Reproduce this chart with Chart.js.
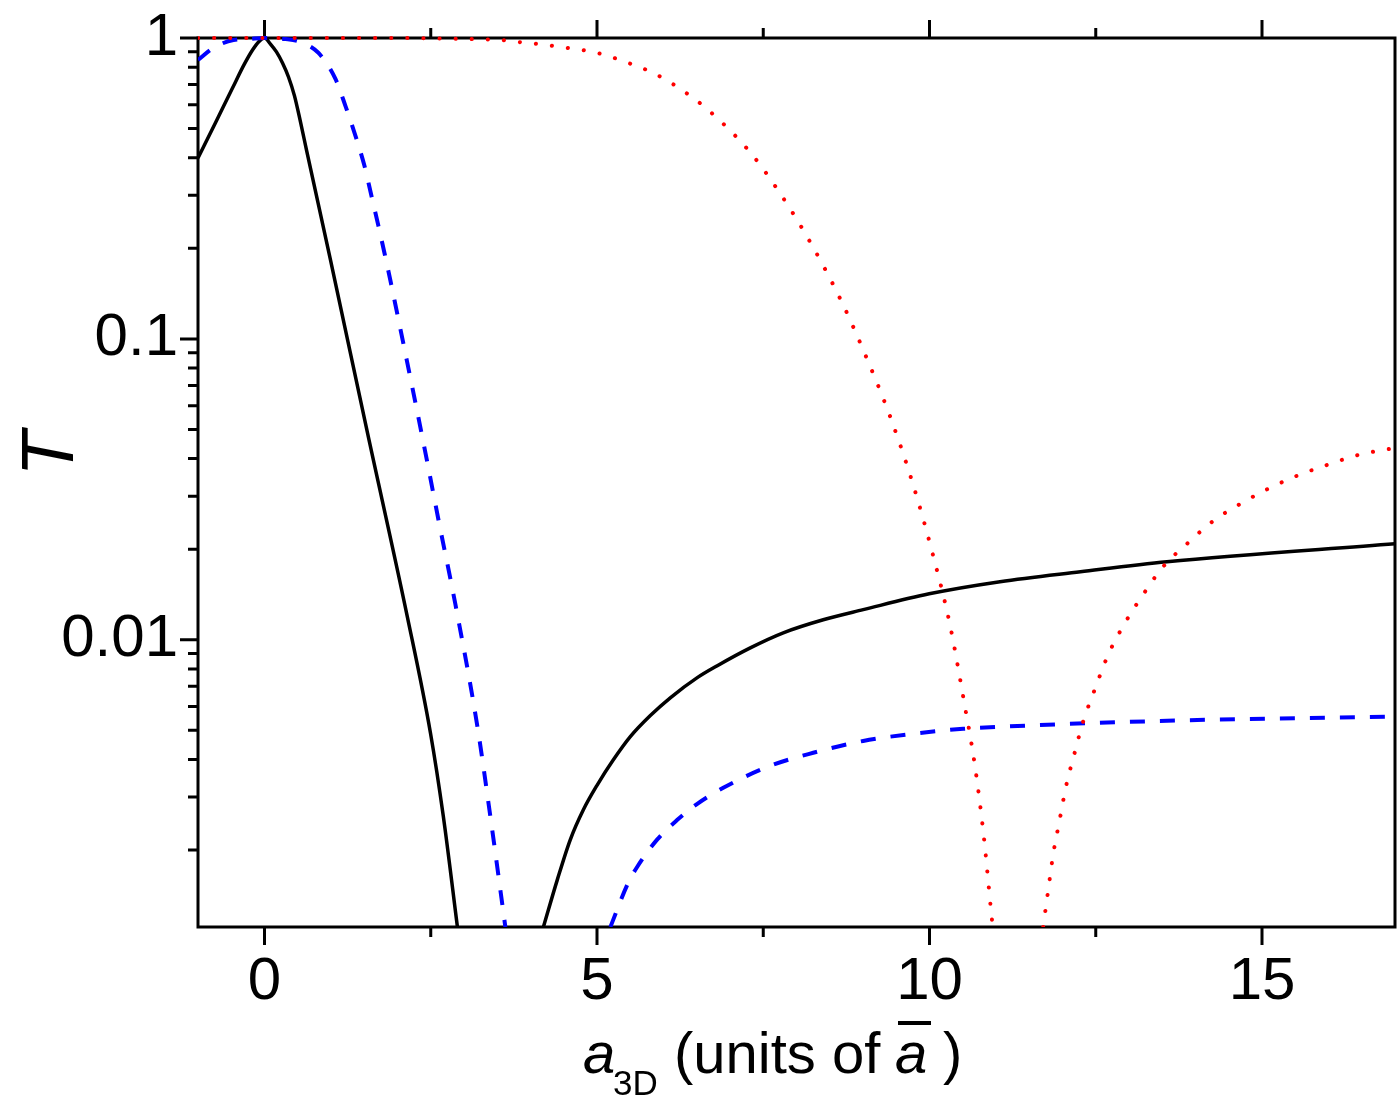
<!DOCTYPE html>
<html>
<head>
<meta charset="utf-8">
<script src="https://cdn.jsdelivr.net/npm/chart.js@4.4.1/dist/chart.umd.min.js"></script>
<style>
html, body { margin: 0; padding: 0; background: #fff; }
</style>
</head>
<body>
<canvas id="plot" width="1400" height="1105"></canvas>
<script>
// axis ticks
const xTicks = [0, 5, 10, 15];
const xMinorTicks = [2.5, 7.5, 12.5];
const yTicks = [0.01, 0.1, 1];
const yTickLabels = ['0.01', '0.1', '1'];

// solid black curve (null = gap below the axis)
const blackX = [-1, -0.737, -0.481, -0.301, -0.18, -0.09, 0, 0.09, 0.18, 0.271, 0.361, 0.451, 0.541, 0.631, 0.992, 1.548, 2.149, 2.495, 2.69, 2.901,
                3.5, 4.194, 4.404, 4.599, 4.795, 5.005, 5.246, 5.501, 5.802, 6.102, 6.508, 6.809, 7.305, 7.801, 8.402, 9.003, 9.995, 11.06, 12.27, 13.57, 17];
const blackT = [0.399, 0.523, 0.682, 0.820, 0.912, 0.970, 1.0, 0.955, 0.899, 0.826, 0.742, 0.642, 0.526, 0.425, 0.183, 0.0488, 0.0119, 0.00491, 0.00258, 0.00111,
                null, 0.00111, 0.001595, 0.002168, 0.002723, 0.003296, 0.00399, 0.004764, 0.005598, 0.006412, 0.007482, 0.0082, 0.009398, 0.010544, 0.01165, 0.01259, 0.01422, 0.0156, 0.01683, 0.01816, 0.02084];

// dashed blue curve
const blueX = [-1, -0.767, -0.466, -0.24, 0, 0.316, 0.541, 0.812, 1.067, 1.218, 1.368, 1.503, 1.608, 1.714, 1.804, 1.894, 1.984, 2.089, 2.27, 2.45, 2.615, 2.871, 3.202, 3.397, 3.622,
               4.4, 5.201, 5.471, 5.606, 5.907, 6.208, 6.508, 6.899, 7.605, 8.252, 9.003, 9.755, 10.507, 11.063, 13.573, 17];
const blueT = [0.845, 0.927, 0.985, 0.9924, 1.0, 0.992, 0.970, 0.892, 0.731, 0.594, 0.473, 0.376, 0.299, 0.237, 0.193, 0.156, 0.125, 0.0963, 0.0613, 0.0387, 0.0251, 0.0131, 0.00514, 0.00258, 0.00111,
               null, 0.00111, 0.00156, 0.00176, 0.00217, 0.00252, 0.00285, 0.00322, 0.00381, 0.00421, 0.00461, 0.00487, 0.00506, 0.00514, 0.00538, 0.00555];

// dotted red curve
const redX = [-1, 2, 3, 3.547, 3.818, 4.103, 4.569, 5.005, 5.426, 5.847, 6.253, 6.674, 7.26, 7.606, 8.162, 8.673, 9.003, 9.409, 9.755, 10.056, 10.311, 10.507, 10.687, 10.822, 10.927, 10.951,
              11.3, 11.709, 11.784, 11.859, 11.95, 12.055, 12.175, 12.31, 12.49, 12.686, 12.94, 13.212, 13.513, 13.888, 14.264, 14.7, 15.121, 15.557, 16.023, 16.459, 17];
const redT = [1, 1, 0.9924, 0.985, 0.970, 0.955, 0.926, 0.892, 0.833, 0.765, 0.677, 0.576, 0.428, 0.340, 0.218, 0.1337, 0.0919, 0.0551, 0.0327, 0.0190, 0.01113, 0.00646, 0.00376, 0.002165, 0.001249, 0.00111,
              null, 0.00111, 0.001466, 0.00193, 0.00247, 0.00327, 0.00415, 0.00534, 0.00688, 0.00891, 0.01138, 0.01413, 0.01749, 0.0210, 0.0248, 0.0285, 0.0320, 0.0353, 0.0384, 0.0412, 0.0434];

const FONT = '"Liberation Sans", Arial, Helvetica, sans-serif';

const toPoints = (xs, ts) => xs.map((x, i) => ({ x: x, y: ts[i] }));

// minor log ticks 2..9 of each decade
const yMinorTicks = [];
[0.001, 0.01, 0.1].forEach(d => {
    for (let k = 2; k <= 9; k++) {
        if (k * d > 0.00111) yMinorTicks.push(k * d);
    }
});

const framePlugin = {
    id: 'frame',
    beforeDatasetsDraw(chart) {
        const { ctx, chartArea: a, scales } = chart;
        const xs = scales.x, ys = scales.y;
        ctx.save();
        ctx.strokeStyle = '#000';
        ctx.lineWidth = 3;
        ctx.strokeRect(a.left, a.top, a.right - a.left, a.bottom - a.top);
        ctx.beginPath();
        const xTick = (v, len) => {
            const p = xs.getPixelForValue(v);
            ctx.moveTo(p, a.bottom); ctx.lineTo(p, a.bottom + len);
            ctx.moveTo(p, a.top); ctx.lineTo(p, a.top - len);
        };
        xTicks.forEach(v => xTick(v, 18));
        xMinorTicks.forEach(v => xTick(v, 10));
        const yTick = (v, len) => {
            const p = ys.getPixelForValue(v);
            ctx.moveTo(a.left, p); ctx.lineTo(a.left - len, p);
        };
        yTicks.forEach(v => yTick(v, 18));
        yMinorTicks.forEach(v => yTick(v, 10));
        ctx.stroke();
        ctx.restore();
    },
    afterDraw(chart) {
        const ctx = chart.ctx;
        ctx.save();
        ctx.fillStyle = '#000';
        ctx.textAlign = 'left';
        ctx.textBaseline = 'alphabetic';
        // x title: a_3D (units of a-bar)
        ctx.font = 'italic 58px ' + FONT;
        ctx.fillText('a', 583, 1073);
        ctx.font = '35px ' + FONT;
        ctx.fillText('3D', 613, 1095);
        ctx.font = '58px ' + FONT;
        ctx.fillText('(units of', 674, 1073);
        ctx.font = 'italic 58px ' + FONT;
        ctx.fillText('a', 895, 1073);
        ctx.fillRect(898, 1021, 33, 4);
        ctx.font = '58px ' + FONT;
        ctx.fillText(')', 943, 1073);
        // y title
        ctx.translate(73, 454);
        ctx.rotate(-Math.PI / 2);
        ctx.textAlign = 'center';
        ctx.font = 'italic 74px ' + FONT;
        ctx.fillText('T', 0, 0);
        ctx.restore();
    }
};

const lineClip = { left: 0, top: 5, right: 0, bottom: 0 };

new Chart(document.getElementById('plot'), {
    type: 'line',
    data: {
        datasets: [
            {
                data: toPoints(redX, redT),
                borderColor: '#ff0000',
                borderWidth: 4,
                borderDash: [0.1, 16],
                borderCapStyle: 'round',
                pointRadius: 0,
                cubicInterpolationMode: 'monotone',
                clip: lineClip
            },
            {
                data: toPoints(blueX, blueT),
                borderColor: '#0000ff',
                borderWidth: 4,
                borderDash: [15, 15],
                pointRadius: 0,
                cubicInterpolationMode: 'monotone',
                clip: lineClip
            },
            {
                data: toPoints(blackX, blackT),
                borderColor: '#000000',
                borderWidth: 3.5,
                pointRadius: 0,
                cubicInterpolationMode: 'monotone',
                clip: lineClip
            }
        ]
    },
    options: {
        responsive: false,
        animation: false,
        devicePixelRatio: 1,
        spanGaps: false,
        layout: { padding: { top: 38, right: 5, left: 0, bottom: 0 } },
        plugins: { legend: { display: false }, tooltip: { enabled: false } },
        scales: {
            x: {
                type: 'linear',
                min: -1,
                max: 17,
                grid: { display: false, drawTicks: false },
                border: { display: false },
                afterBuildTicks: s => { s.ticks = xTicks.map(v => ({ value: v })); },
                afterFit: s => { s.height = 178; },
                ticks: {
                    color: '#000',
                    padding: 19,
                    maxRotation: 0,
                    font: { family: FONT, size: 60 },
                    callback: v => String(v)
                }
            },
            y: {
                type: 'logarithmic',
                min: 0.00111,
                max: 1,
                grid: { display: false, drawTicks: false },
                border: { display: false },
                afterBuildTicks: s => { s.ticks = yTicks.map(v => ({ value: v })); },
                afterFit: s => { s.width = 198; },
                ticks: {
                    color: '#000',
                    padding: 20,
                    font: { family: FONT, size: 60, lineHeight: 0.5 },
                    callback: v => {
                        const i = yTicks.indexOf(v);
                        return i >= 0 ? yTickLabels[i] : '';
                    }
                }
            }
        }
    },
    plugins: [framePlugin]
});
</script>
</body>
</html>
